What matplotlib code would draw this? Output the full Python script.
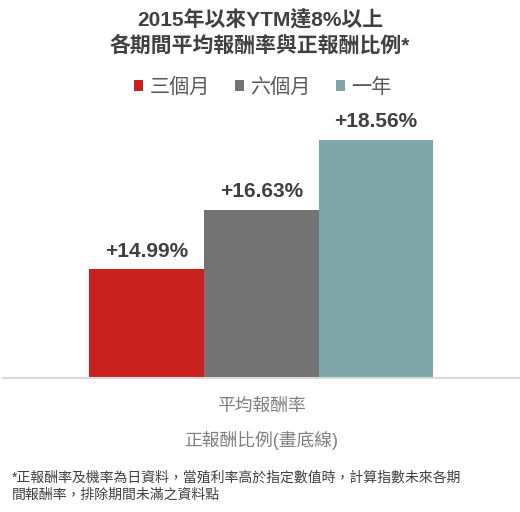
"""YTM >= 8% since 2015: average return by holding period (bar chart, zh-TW)."""
import matplotlib; matplotlib.use("Agg"); import matplotlib.pyplot as plt

periods = ["三個月", "六個月", "一年"]
avg_return = [14.99, 16.63, 18.56]
COL = ["#C9211E", "#737373", "#7FA7AA"]

FONT = ["Liberation Sans", "Noto Sans CJK TC", "DejaVu Sans"]
plt.rcParams["font.family"] = FONT

W, H = 520, 512
fig = plt.figure(figsize=(W / 100, H / 100), dpi=100)
ax = fig.add_axes([3 / W, 1 - 378 / H, 517 / W, 278 / H])

x = list(range(len(periods)))
bars = ax.bar(x, avg_return, width=1.0, color=COL)
for b, lab in zip(bars, periods):
    b.set_label(lab)
ax.set_xlim(-1.25, 3.254)
ax.set_ylim(12, 19.66)
for s in ["top", "right", "left"]:
    ax.spines[s].set_visible(False)
ax.spines["bottom"].set_color("#D9D9D9")
ax.spines["bottom"].set_linewidth(1.5)
ax.set_xticks([]); ax.set_yticks([])

for xi, v in zip(x, avg_return):
    ax.annotate(f"+{v:.2f}%", (xi, v), xytext=(0, 13.2), textcoords="offset points",
                ha="center", va="center", fontsize=15, fontweight="bold", color="#404040")

fig.text(0.5, 1 - 20 / H, "2015年以來YTM達8%以上", ha="center", va="center",
         fontsize=15, fontweight="bold", color="#404040")
fig.text(0.5, 1 - 46 / H, "各期間平均報酬率與正報酬比例*", ha="center", va="center",
         fontsize=15, fontweight="bold", color="#404040")

# small square swatches, as in the source
leg = fig.legend(handles=list(bars), loc="center", bbox_to_anchor=(0.505, 1 - 87 / H), ncol=3,
                 frameon=False, fontsize=14.5, handlelength=0.45, handleheight=0.45,
                 handletextpad=0.3, columnspacing=1.25, borderaxespad=0)
for t in leg.get_texts():
    t.set_color("#595959")

fig.text(261 / W, 1 - 406 / H, "平均報酬率", ha="center", va="center", fontsize=12.8, color="#7F7F7F")
fig.text(261 / W, 1 - 440 / H, "正報酬比例(畫底線)", ha="center", va="center", fontsize=12.8, color="#7F7F7F")

fig.text(12 / W, 1 - 478 / H, "*正報酬率及機率為日資料，當殖利率高於指定數值時，計算指數未來各期",
         ha="left", va="center", fontsize=10, color="#404040")
fig.text(12 / W, 1 - 495 / H, "間報酬率，排除期間未滿之資料點",
         ha="left", va="center", fontsize=10, color="#404040")

fig.savefig("out.png", dpi=100)
